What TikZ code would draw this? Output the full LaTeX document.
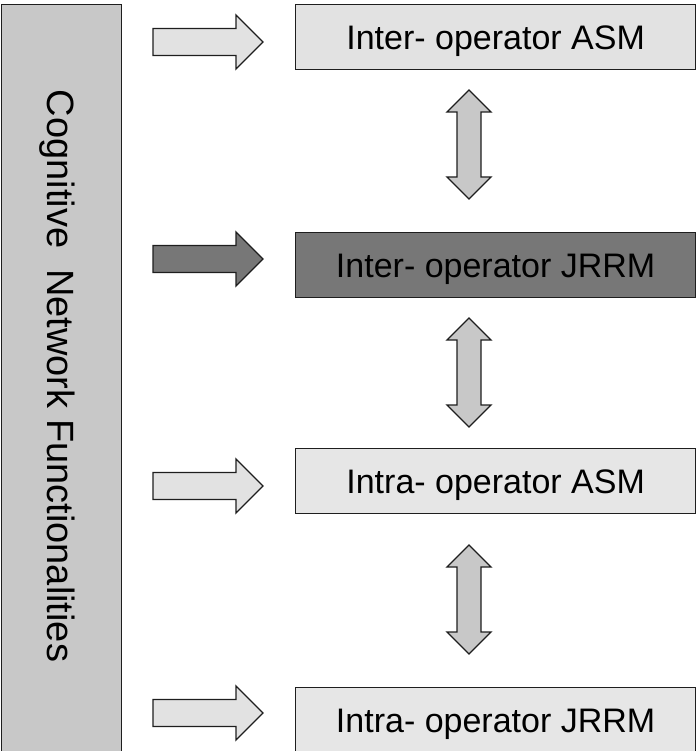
\documentclass[tikz,border=0pt]{standalone}
\usepackage{fontspec}
\setmainfont{Liberation Sans}
\definecolor{panelgray}{HTML}{C8C8C8}
\definecolor{lightbox}{HTML}{E2E2E2}
\definecolor{darkbox}{HTML}{777777}
\definecolor{edge}{HTML}{1E1E1E}
\tikzset{
  x=1pt, y=-1pt,
  outline/.style={draw=edge, line width=1.3pt, line join=miter},
  boxnode/.style={outline, minimum width=400pt, minimum height=65pt, inner sep=0pt},
  boxtext/.style={font=\fontsize{34}{36}\selectfont, yshift=-4pt},
  rarrow/.pic={\path[pic actions] (0,-13.5) -- (83,-13.5) -- (83,-27) -- (110,0) -- (83,27) -- (83,13.5) -- (0,13.5) -- cycle;},
  darrow/.pic={\path[pic actions] (0,-54.5) -- (22,-32.5) -- (12,-32.5) -- (12,32.5) -- (22,32.5) -- (0,54.5) -- (-22,32.5) -- (-12,32.5) -- (-12,-32.5) -- (-22,-32.5) -- cycle;}
}
\begin{document}
\begin{tikzpicture}
\useasboundingbox (0,0) rectangle (696,751);
\begin{scope}
\clip (0,0) rectangle (696,751);
% left panel
\node[outline, fill=panelgray, minimum width=120pt, minimum height=770pt, inner sep=0pt, anchor=north west] (panel) at (1,4) {};
\node[rotate=-90, font=\fontsize{38}{40}\selectfont] (paneltext) at (57,376) {Cognitive\ \ Network Functionalities};
% boxes
\node[boxnode, fill=lightbox, anchor=north west] (b1) at (295,4) {};
\node[boxnode, fill=darkbox, anchor=north west] (b2) at (295,232) {};
\node[boxnode, fill=lightbox!85!white, anchor=north west] (b3) at (295,448) {};
\node[boxnode, fill=lightbox!85!white, anchor=north west] (b4) at (295,687) {};
\node[boxtext] (t1) at (b1.center) {Inter- operator ASM};
\node[boxtext] (t2) at (b2.center) {Inter- operator JRRM};
\node[boxtext] (t3) at (b3.center) {Intra- operator ASM};
\node[boxtext] (t4) at (b4.center) {Intra- operator JRRM};
% right arrows
\pic[outline, fill=lightbox] at (153,42) {rarrow};
\pic[outline, fill=darkbox] at (153,259) {rarrow};
\pic[outline, fill=lightbox] at (153,486) {rarrow};
\pic[outline, fill=lightbox] at (153,713) {rarrow};
% double arrows
\pic[outline, fill=panelgray] at (469,144.5) {darrow};
\pic[outline, fill=panelgray] at (469,372.5) {darrow};
\pic[outline, fill=panelgray] at (469,599.5) {darrow};
\end{scope}
\end{tikzpicture}
\end{document}
